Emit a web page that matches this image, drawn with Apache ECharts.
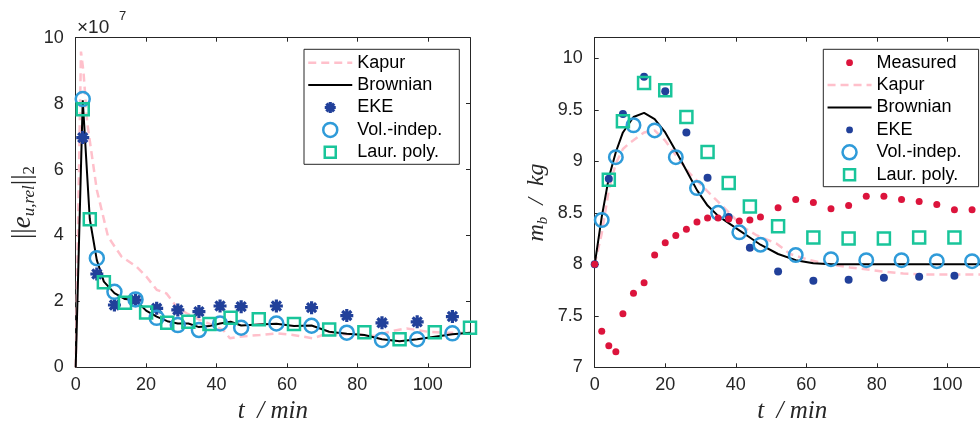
<!DOCTYPE html>
<html><head><meta charset="utf-8">
<script src="https://cdn.jsdelivr.net/npm/echarts@6/dist/echarts.min.js"></script>
<style>html,body{margin:0;padding:0;background:#fff}#c{width:980px;height:425px}</style>
</head><body><div id="c"></div><script>
// ---------- Left panel data (values in units of 1e7) ----------
const lKapurX = [0, 1.5, 2.2, 3.3, 6, 9.2, 13, 17.3, 20.1, 23, 25.8, 28.6, 31.5, 35.2, 39, 41.9, 43.8, 46.6, 52.3, 57, 61.7, 67.4, 70.2, 75, 80, 85, 90, 94, 100, 105, 112];
const lKapurY = [0, 9.58, 8.97, 7.4, 5.38, 3.96, 3.36, 3.05, 2.75, 2.35, 2.24, 1.84, 1.64, 1.44, 1.28, 1.13, 0.88, 0.93, 0.98, 1.03, 0.98, 0.88, 0.98, 1.0, 1.0, 0.95, 1.1, 1.18, 1.08, 1.05, 1.05];
const lBrownX = [0, 2, 4, 6, 8, 11, 14, 17, 20, 23, 26, 29, 32, 35, 38, 41, 44, 47, 52, 57, 62, 67, 72, 77, 82, 87, 92, 97, 102, 107, 112];
const lBrownY = [0, 8.1, 4.5, 3.25, 2.6, 2.25, 2.07, 2.04, 1.72, 1.54, 1.4, 1.33, 1.33, 1.22, 1.25, 1.33, 1.38, 1.27, 1.3, 1.32, 1.25, 1.27, 1.08, 1.02, 0.98, 0.85, 0.79, 0.85, 0.93, 1.0, 1.05];
const lEkeX = [2, 6, 11, 17, 23, 29, 35, 41, 47, 57, 67, 77, 87, 97, 107];
const lEkeY = [6.97, 2.83, 1.89, 2.04, 1.79, 1.74, 1.69, 1.86, 1.84, 1.86, 1.81, 1.57, 1.35, 1.38, 1.54];
const lVolX = [2, 6, 11, 17, 23, 29, 35, 41, 47, 57, 67, 77, 87, 97, 107];
const lVolY = [8.14, 3.31, 2.29, 2.06, 1.50, 1.28, 1.13, 1.33, 1.20, 1.33, 1.26, 1.05, 0.83, 0.85, 1.03];
const lLaurX = [2, 4, 8, 14, 20, 26, 32, 38, 44, 52, 62, 72, 82, 92, 102, 112];
const lLaurY = [7.83, 4.49, 2.58, 1.96, 1.66, 1.35, 1.38, 1.31, 1.50, 1.46, 1.31, 1.15, 1.06, 0.85, 1.06, 1.20];

// ---------- Right panel data (kg) ----------
const rMeasX = [0, 2, 4, 6, 8, 11, 14, 17, 20, 23, 26, 29, 32, 35, 38, 41, 44, 47, 52, 57, 62, 67, 72, 77, 82, 87, 92, 97, 102, 107];
const rMeasY = [8.0, 7.35, 7.21, 7.15, 7.52, 7.72, 7.82, 8.09, 8.21, 8.28, 8.34, 8.41, 8.45, 8.45, 8.44, 8.42, 8.43, 8.46, 8.55, 8.63, 8.60, 8.54, 8.57, 8.66, 8.66, 8.63, 8.61, 8.58, 8.53, 8.53];
const rKapurX = [0, 2, 4, 6, 8, 10, 14, 17, 20, 23.4, 27, 30.8, 34.6, 38.4, 42.1, 46, 51.6, 55.4, 61, 66.7, 72.4, 81.9, 87.5, 93.5, 103, 112];
const rKapurY = [8.0, 8.3, 8.72, 8.98, 9.12, 9.18, 9.28, 9.3, 9.2, 9.04, 8.88, 8.75, 8.62, 8.49, 8.36, 8.28, 8.2, 8.1, 8.04, 8.0, 7.97, 7.93, 7.91, 7.9, 7.9, 7.9];
const rBrownX = [0, 2, 4, 6, 8, 11, 14, 17, 20, 23, 26, 29, 32, 35, 38, 41, 44, 47, 52, 57, 62, 67, 72, 82, 92, 102, 112];
const rBrownY = [8.0, 8.46, 8.84, 9.09, 9.28, 9.43, 9.47, 9.41, 9.28, 9.10, 8.91, 8.72, 8.57, 8.47, 8.40, 8.33, 8.26, 8.19, 8.10, 8.04, 8.01, 8.0, 8.0, 8.0, 8.0, 8.0, 8.0];
const rEkeX = [0, 4, 8, 14, 20, 26, 32, 38, 44, 52, 62, 72, 82, 92, 102];
const rEkeY = [8.0, 8.83, 9.46, 9.82, 9.68, 9.28, 8.84, 8.46, 8.16, 7.93, 7.84, 7.85, 7.87, 7.88, 7.89];
const rVolX = [2, 6, 11, 17, 23, 29, 35, 41, 47, 57, 67, 77, 87, 97, 107];
const rVolY = [8.43, 9.04, 9.35, 9.30, 9.04, 8.74, 8.50, 8.31, 8.19, 8.09, 8.05, 8.04, 8.04, 8.03, 8.03];
const rLaurX = [4, 8, 14, 20, 26, 32, 38, 44, 52, 62, 72, 82, 92, 102];
const rLaurY = [8.82, 9.39, 9.76, 9.69, 9.43, 9.09, 8.79, 8.56, 8.37, 8.26, 8.25, 8.25, 8.26, 8.26];

// ---------- Axis ticks ----------
const xTicks = [0, 20, 40, 60, 80, 100];
const lYTicks = [0, 2, 4, 6, 8, 10];
const rYTicks = [7, 7.5, 8, 8.5, 9, 9.5, 10];

const legendLeftNames = ['Kapur', 'Brownian', 'EKE', 'Vol.-indep.', 'Laur. poly.'];
const legendRightNames = ['Measured', 'Kapur', 'Brownian', 'EKE', 'Vol.-indep.', 'Laur. poly.'];

const zip = (xs, ys) => xs.map((x, i) => [x, ys[i]]);
const AX = '#262626';
const C_KAPUR = '#ffc0cb', C_EKE = '#21409a', C_VOL = '#2f9bd9', C_LAUR = '#19c59a', C_MEAS = '#dc143c';
const STAR = 'path://M10,0 L10,20 M0,10 L20,10 M3,3 L17,17 M3,17 L17,3';
const DOT_ICON = 'path://M0,0 M14,14 M3.6,7 A3.4,3.4 0 1 0 10.4,7 A3.4,3.4 0 1 0 3.6,7 Z';
const SQ_ICON = 'path://M0,0 M14,14 M1.5,1.5 L12.5,1.5 L12.5,12.5 L1.5,12.5 Z';
const STAR_ICON = 'path://M0,0 M14,14 M7,1.5 L7,12.5 M1.5,7 L12.5,7 M3.1,3.1 L10.9,10.9 M3.1,10.9 L10.9,3.1';
const LINE_ICON = 'path://M0,0 M44,14 M0,7 L44,7';

const labelFont = {color: AX, fontSize: 18, fontFamily: 'Liberation Sans, Arial, sans-serif'};
function xAxis(gi, pos, show, name) {
  return {
    type: 'value', gridIndex: gi, position: pos, min: 0, max: 112, interval: 20,
    axisLine: {show: true, onZero: false, lineStyle: {color: AX, width: 1}},
    axisTick: {show: true, inside: true, length: 4, lineStyle: {color: AX, width: 1}},
    axisLabel: Object.assign({show: show, margin: 9, formatter: v => xTicks.includes(v) ? String(v) : ''}, labelFont),
    splitLine: {show: false},
    name: name || '', nameLocation: 'middle', nameGap: 31,
    nameTextStyle: {fontFamily: 'Liberation Serif, serif', fontStyle: 'italic', fontSize: 25, color: AX}
  };
}
function yAxis(gi, pos, show, min, max, interval, ticks, name, gap, rich) {
  return {
    type: 'value', gridIndex: gi, position: pos, min: min, max: max, interval: interval,
    axisLine: {show: true, onZero: false, lineStyle: {color: AX, width: 1}},
    axisTick: {show: true, inside: true, length: 4, lineStyle: {color: AX, width: 1}},
    axisLabel: Object.assign({show: show, margin: 12, formatter: v => ticks.some(t => Math.abs(t - v) < 1e-9) ? String(v) : ''}, labelFont),
    splitLine: {show: false},
    name: name || '', nameLocation: 'middle', nameRotate: 90, nameGap: gap || 30,
    nameTextStyle: {color: AX, rich: rich || {}}
  };
}
const serifI = {fontFamily: 'Liberation Serif, serif', fontStyle: 'italic', color: AX};
const serifN = {fontFamily: 'Liberation Serif, serif', color: AX};
const leftRich = {
  b: Object.assign({fontSize: 27, lineHeight: 30}, serifN),
  e: Object.assign({fontSize: 27, lineHeight: 30}, serifI),
  s: Object.assign({fontSize: 17, lineHeight: 16, verticalAlign: 'bottom'}, serifI),
  n: Object.assign({fontSize: 17, lineHeight: 16, verticalAlign: 'bottom'}, serifN)
};
const rightRich = {
  e: Object.assign({fontSize: 24, lineHeight: 28}, serifI),
  s: Object.assign({fontSize: 15, lineHeight: 15, verticalAlign: 'bottom'}, serifI)
};

const lineS = (name, xi, yi, xs, ys, color, width, dash, z) => ({
  type: 'line', name, xAxisIndex: xi, yAxisIndex: yi, data: zip(xs, ys), symbol: 'none', showSymbol: false,
  lineStyle: {color, width, type: dash || 'solid'}, itemStyle: {color}, z: z || 2, silent: true
});
const scatS = (name, xi, yi, xs, ys, symbol, size, fill, stroke, bw, z) => ({
  type: 'scatter', name, xAxisIndex: xi, yAxisIndex: yi, data: zip(xs, ys), symbol, symbolSize: size,
  itemStyle: {color: fill, borderColor: stroke, borderWidth: bw, opacity: 1}, z: z || 3, silent: true
});
const NONE = 'rgba(0,0,0,0)';

const legendBase = {
  orient: 'vertical', itemWidth: 44, itemHeight: 14, itemGap: 4.4, padding: [4.4, 17, 3, 3],
  borderColor: AX, borderWidth: 1, backgroundColor: '#fff', selectedMode: false,
  textStyle: {fontSize: 18, lineHeight: 18, fontFamily: 'Liberation Sans, Arial, sans-serif', color: '#000'}
};
function legendItems(names, ekeIcon) {
  return names.map(n => {
    if (n === 'Kapur') return {name: n, icon: LINE_ICON, itemStyle: {color: NONE, borderColor: C_KAPUR, borderWidth: 2.5, borderType: [8, 5]}};
    if (n === 'Brownian') return {name: n, icon: LINE_ICON, itemStyle: {color: NONE, borderColor: '#000', borderWidth: 2, borderType: 'solid'}};
    if (n === 'EKE') return ekeIcon === 'dot' ? {name: n, icon: DOT_ICON, itemStyle: {color: C_EKE, borderWidth: 0}} :
      {name: n, icon: STAR_ICON, itemStyle: {color: C_EKE, borderColor: C_EKE, borderWidth: 3.2}};
    if (n === 'Vol.-indep.') return {name: n, icon: 'circle', itemStyle: {color: NONE, borderColor: C_VOL, borderWidth: 2.5}};
    if (n === 'Laur. poly.') return {name: n, icon: SQ_ICON, itemStyle: {color: NONE, borderColor: C_LAUR, borderWidth: 2.5}};
    if (n === 'Measured') return {name: n, icon: DOT_ICON, itemStyle: {color: C_MEAS, borderWidth: 0}};
    return n;
  });
}

const option = {
  animation: false,
  backgroundColor: '#fff',
  grid: [
    {left: 75.7, top: 37.7, width: 394.3, height: 329.6, containLabel: false, outerBoundsMode: 'none'},
    {left: 594.7, top: 37.7, width: 395, height: 329.6, containLabel: false, outerBoundsMode: 'none'}
  ],
  xAxis: [xAxis(0, 'bottom', true, 't  / min'), xAxis(0, 'top', false), xAxis(1, 'bottom', true, 't  / min'), xAxis(1, 'top', false)],
  yAxis: [
    yAxis(0, 'left', true, 0, 10, 2, lYTicks, '{b|||}{e|e}{s|u,rel}{b|||}{n|2}', 38, leftRich),
    yAxis(0, 'right', false, 0, 10, 2, lYTicks),
    yAxis(1, 'left', true, 7, 10.2, 0.5, rYTicks, '{e|m}{s|b}{e|  /  kg}', 44, rightRich),
    yAxis(1, 'right', false, 7, 10.2, 0.5, rYTicks)
  ],
  legend: [
    Object.assign({left: 304, top: 49.3, data: legendItems(legendLeftNames, 'star')}, legendBase),
    Object.assign({left: 823.3, top: 49.3, data: legendItems(legendRightNames, 'dot')}, legendBase)
  ],
  graphic: [
    {type: 'text', x: 77, y: 37, style: {text: '×10', font: '19px "Liberation Sans", Arial, sans-serif', fill: AX, verticalAlign: 'bottom'}},
    {type: 'text', x: 119, y: 23, style: {text: '7', font: '13px "Liberation Sans", Arial, sans-serif', fill: AX, verticalAlign: 'bottom'}}
  ],
  series: [
    lineS('Kapur', 0, 0, lKapurX, lKapurY, C_KAPUR, 2.5, [8, 5], 2),
    lineS('Brownian', 0, 0, lBrownX, lBrownY, '#000', 2, null, 3),
    scatS('EKE', 0, 0, lEkeX, lEkeY, STAR, 13, C_EKE, C_EKE, 3.2, 4),
    scatS('Vol.-indep.', 0, 0, lVolX, lVolY, 'circle', 14, NONE, C_VOL, 2.5, 5),
    scatS('Laur. poly.', 0, 0, lLaurX, lLaurY, 'rect', 12, NONE, C_LAUR, 2.5, 6),

    scatS('Measured', 2, 2, rMeasX, rMeasY, 'circle', 7, C_MEAS, C_MEAS, 0, 8),
    lineS('Kapur', 2, 2, rKapurX, rKapurY, C_KAPUR, 2.5, [8, 5], 2),
    lineS('Brownian', 2, 2, rBrownX, rBrownY, '#000', 2, null, 3),
    scatS('EKE', 2, 2, rEkeX, rEkeY, 'circle', 8, C_EKE, C_EKE, 0, 4),
    scatS('Vol.-indep.', 2, 2, rVolX, rVolY, 'circle', 13.5, NONE, C_VOL, 2.5, 5),
    scatS('Laur. poly.', 2, 2, rLaurX, rLaurY, 'rect', 12, NONE, C_LAUR, 2.5, 6)
  ]
};
const chart = echarts.init(document.getElementById('c'));
chart.setOption(option);
</script></body></html>
